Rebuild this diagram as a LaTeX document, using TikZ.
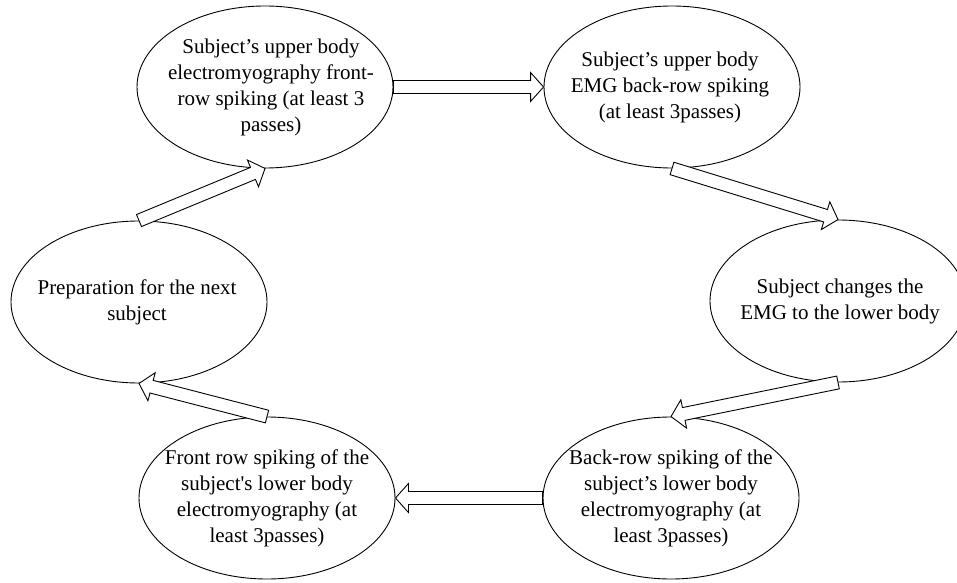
\documentclass[tikz,border=0pt]{standalone}
\usepackage{fontspec}
\setmainfont{Liberation Serif}[Ligatures=TeXOff]
\usetikzlibrary{shapes.geometric,calc}

% hollow block arrow from anchor #1 to anchor #2
\newcommand\blockarrow[2]{%
  \path ($(#2)!13bp!(#1)$) coordinate (hb);
  \draw[arrowbody]
    ($(#1)!6.5bp!90:(#2)$) -- ($(hb)!6.5bp!90:(#2)$) -- ($(hb)!14.5bp!90:(#2)$)
    -- (#2)
    -- ($(hb)!14.5bp!-90:(#2)$) -- ($(hb)!6.5bp!-90:(#2)$) -- ($(#1)!6.5bp!-90:(#2)$)
    -- cycle;
}

\tikzset{
  stage/.style={draw, ellipse, line width=0.9bp, minimum width=256bp,
    minimum height=162bp, inner sep=0pt},
  stagetext/.style={align=center, inner sep=0pt,
    font=\fontsize{21bp}{26bp}\selectfont},
  arrowbody/.style={draw, fill=white, line width=0.9bp, line join=miter}
}

\begin{document}
\begin{tikzpicture}[x=1bp, y=-1bp]
  \path[fill=white, use as bounding box] (0,0) rectangle (957,583);

  % stages of the recording cycle
  \node[stage] (e1) at (265,87) {};
  \node[stage] (e2) at (672,87) {};
  \node[stage] (e3) at (838,301) {};
  \node[stage] (e4) at (671,498) {};
  \node[stage] (e5) at (267,498) {};
  \node[stage] (e6) at (139,302) {};

  \node[stagetext] (t1) at ([xshift=6bp]e1.center)
    {Subject’s upper body\\electromyography front-\\row spiking (at least 3\\passes)};
  \node[stagetext] (t2) at ([xshift=-2bp]e2.center)
    {Subject’s upper body\\EMG back-row spiking\\(at least 3passes)};
  \node[stagetext] (t3) at ([xshift=2bp]e3.center)
    {Subject changes the\\EMG to the lower body};
  \node[stagetext] (t4) at (e4.center)
    {Back-row spiking of the\\subject’s lower body\\electromyography (at\\least 3passes)};
  \node[stagetext] (t5) at (e5.center)
    {Front row spiking of the\\subject's lower body\\electromyography (at\\least 3passes)};
  \node[stagetext] (t6) at ([xshift=-2bp]e6.center)
    {Preparation for the next\\subject};

  % transitions
  \blockarrow{e1.east}{e2.west}
  \blockarrow{e2.south}{e3.north}
  \blockarrow{e3.south}{e4.north}
  \blockarrow{e4.west}{e5.east}
  \blockarrow{e5.north}{e6.south}
  \blockarrow{e6.north}{e1.south}
\end{tikzpicture}
\end{document}
